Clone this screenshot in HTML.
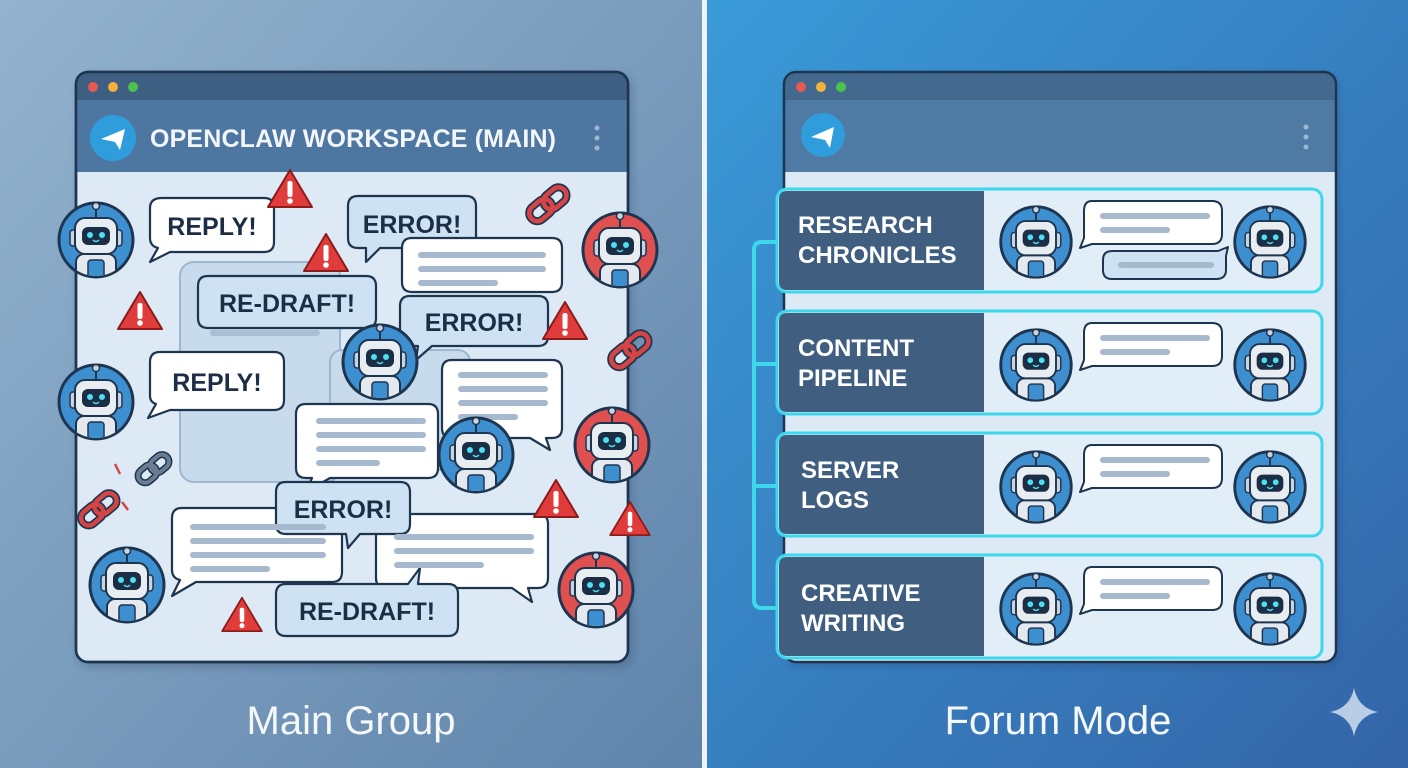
<!DOCTYPE html>
<html><head><meta charset="utf-8"><style>
html,body{margin:0;padding:0;width:1408px;height:768px;overflow:hidden}
svg{display:block}
text{font-family:"Liberation Sans",sans-serif}
</style></head><body>
<svg width="1408" height="768" viewBox="0 0 1408 768" xmlns="http://www.w3.org/2000/svg">
<defs>
<linearGradient id="lg" x1="0" y1="0" x2="1" y2="1"><stop offset="0" stop-color="#93b3ce"/><stop offset="1" stop-color="#5f84ab"/></linearGradient>
<linearGradient id="rg" x1="0" y1="0" x2="1" y2="1"><stop offset="0" stop-color="#3a9ad8"/><stop offset="1" stop-color="#3465a8"/></linearGradient>
<clipPath id="cc"><circle cx="0" cy="0" r="36"/></clipPath>
<symbol id="rb" viewBox="-42 -42 84 84" overflow="visible">
<circle r="37" fill="#3d8fd0" stroke="#1e3550" stroke-width="3"/>
<g clip-path="url(#cc)">
<rect x="-20" y="14" width="40" height="34" rx="8" fill="#e3e9ef" stroke="#1e3550" stroke-width="2"/>
<rect x="-8" y="20" width="16" height="20" rx="3" fill="#3d8fd0" stroke="#1e3550" stroke-width="1.5"/>
</g>
<line x1="0" y1="-22" x2="0" y2="-33" stroke="#1e3550" stroke-width="2"/>
<circle cx="0" cy="-34" r="3.5" fill="#c9d4df" stroke="#1e3550" stroke-width="1.5"/>
<rect x="-26" y="-10" width="8" height="16" rx="3" fill="#c9d4df" stroke="#1e3550" stroke-width="1.5"/>
<rect x="18" y="-10" width="8" height="16" rx="3" fill="#c9d4df" stroke="#1e3550" stroke-width="1.5"/>
<rect x="-21" y="-22" width="42" height="36" rx="10" fill="#e8edf2" stroke="#1e3550" stroke-width="2"/>
<rect x="-14" y="-13" width="28" height="18" rx="6" fill="#1c2e45"/>
<circle cx="-6" cy="-5" r="3" fill="#4de0f0"/><circle cx="6" cy="-5" r="3" fill="#4de0f0"/>
<path d="M-3 0 Q0 3 3 0" stroke="#4de0f0" stroke-width="1.5" fill="none"/>
</symbol>
<symbol id="rr" viewBox="-42 -42 84 84" overflow="visible">
<circle r="37" fill="#e05050" stroke="#1e3550" stroke-width="3"/>
<g clip-path="url(#cc)">
<rect x="-20" y="14" width="40" height="34" rx="8" fill="#e3e9ef" stroke="#1e3550" stroke-width="2"/>
<rect x="-8" y="20" width="16" height="20" rx="3" fill="#3d8fd0" stroke="#1e3550" stroke-width="1.5"/>
</g>
<line x1="0" y1="-22" x2="0" y2="-33" stroke="#1e3550" stroke-width="2"/>
<circle cx="0" cy="-34" r="3.5" fill="#c9d4df" stroke="#1e3550" stroke-width="1.5"/>
<rect x="-26" y="-10" width="8" height="16" rx="3" fill="#c9d4df" stroke="#1e3550" stroke-width="1.5"/>
<rect x="18" y="-10" width="8" height="16" rx="3" fill="#c9d4df" stroke="#1e3550" stroke-width="1.5"/>
<rect x="-21" y="-22" width="42" height="36" rx="10" fill="#e8edf2" stroke="#1e3550" stroke-width="2"/>
<rect x="-14" y="-13" width="28" height="18" rx="6" fill="#1c2e45"/>
<circle cx="-6" cy="-5" r="3" fill="#4de0f0"/><circle cx="6" cy="-5" r="3" fill="#4de0f0"/>
<path d="M-3 0 Q0 3 3 0" stroke="#4de0f0" stroke-width="1.5" fill="none"/>
</symbol>
<symbol id="wt" viewBox="-22 -22 44 40" overflow="visible">
<path d="M0 -20 L22 17 L-22 17 Z" fill="#e03c3c" stroke="#8a1c1c" stroke-width="2" stroke-linejoin="round"/>
<rect x="-2.5" y="-9" width="5" height="16" rx="2" fill="#fff"/><circle cx="0" cy="11" r="2.8" fill="#fff"/>
</symbol>
<symbol id="ch" viewBox="-20 -20 40 40" overflow="visible">
<g transform="rotate(-40)" fill="none">
<rect x="-18" y="-7" width="22" height="14" rx="7" stroke="#1e3550" stroke-width="7"/>
<rect x="-2" y="-7" width="22" height="14" rx="7" stroke="#1e3550" stroke-width="7"/>
<rect x="-18" y="-7" width="22" height="14" rx="7" stroke="#d64545" stroke-width="4"/>
<rect x="-2" y="-7" width="22" height="14" rx="7" stroke="#d64545" stroke-width="4"/>
</g>
</symbol>
<filter id="sh" x="-10%" y="-10%" width="130%" height="130%"><feDropShadow dx="3" dy="4" stdDeviation="4" flood-color="#1e3550" flood-opacity=".25"/></filter>
</defs>

<rect x="0" y="0" width="704" height="768" fill="url(#lg)"/>
<rect x="704" y="0" width="704" height="768" fill="url(#rg)"/>
<rect x="702" y="0" width="5" height="768" fill="#eef4fa"/>

<!-- LEFT WINDOW -->
<g filter="url(#sh)">
<rect x="76" y="72" width="552" height="590" rx="12" fill="#dde9f4" stroke="#1e3550" stroke-width="2.5"/>
</g>
<path d="M76 172 V84 Q76 72 88 72 H616 Q628 72 628 84 V172 Z" fill="#4d77a1"/>
<path d="M76 100 V84 Q76 72 88 72 H616 Q628 72 628 84 V100 Z" fill="#3e5f82"/>
<rect x="76" y="72" width="552" height="590" rx="12" fill="none" stroke="#1e3550" stroke-width="2.5"/>
<circle cx="93" cy="87" r="5" fill="#e85a4f"/><circle cx="113" cy="87" r="5" fill="#f1b33c"/><circle cx="133" cy="87" r="5" fill="#4cc24c"/>
<circle cx="113" cy="138" r="23" fill="#2f9ddc"/>
<path d="M101 139 L125 129 L120 150 L115 142 Z" fill="#fff"/>
<text x="150" y="147" font-size="25" font-weight="bold" fill="#f2f6fa" textLength="406">OPENCLAW WORKSPACE (MAIN)</text>
<circle cx="597" cy="128" r="2.5" fill="#9fb6cf"/><circle cx="597" cy="138" r="2.5" fill="#9fb6cf"/><circle cx="597" cy="148" r="2.5" fill="#9fb6cf"/>

<rect x="180" y="262" width="160" height="220" rx="14" fill="#c8dbec" stroke="#9fb6cf" stroke-width="2"/>
<rect x="210" y="300" width="90" height="6" rx="3" fill="#aabfd2"/><rect x="210" y="330" width="110" height="6" rx="3" fill="#aabfd2"/>
<rect x="330" y="350" width="140" height="120" rx="12" fill="#c8dbec" stroke="#9fb6cf" stroke-width="2"/>

<g stroke="#1e3550" stroke-width="2.2" stroke-linejoin="round">
<path d="M162 198 H264 Q274 198 274 208 V242 Q274 252 264 252 H170 L150 262 L158 248 Q150 246 150 238 V208 Q150 198 162 198 Z" fill="#fff"/>
<path d="M358 196 H466 Q476 196 476 206 V238 Q476 248 466 248 H380 L366 262 L366 248 H358 Q348 248 348 238 V206 Q348 196 358 196 Z" fill="#cfe2f3"/>
<path d="M412 238 H552 Q562 238 562 248 V282 Q562 292 552 292 H412 Q402 292 402 282 V248 Q402 238 412 238 Z" fill="#fff"/>
<path d="M410 296 H538 Q548 296 548 306 V336 Q548 346 538 346 H432 L416 360 L418 346 H410 Q400 346 400 336 V306 Q400 296 410 296 Z" fill="#cfe2f3"/>
<path d="M208 276 H366 Q376 276 376 286 V318 Q376 328 366 328 H208 Q198 328 198 318 V286 Q198 276 208 276 Z" fill="#cfe2f3"/>
<path d="M160 352 H274 Q284 352 284 362 V400 Q284 410 274 410 H170 L148 418 L156 404 Q150 402 150 396 V362 Q150 352 160 352 Z" fill="#fff"/>
<path d="M452 360 H552 Q562 360 562 370 V428 Q562 438 552 438 H546 L550 450 L530 438 H452 Q442 438 442 428 V370 Q442 360 452 360 Z" fill="#fff"/>
<path d="M306 404 H428 Q438 404 438 414 V468 Q438 478 428 478 H330 L306 492 L312 478 H306 Q296 478 296 468 V414 Q296 404 306 404 Z" fill="#fff"/>
</g>
<g fill="#a7b9cc">
<rect x="418" y="252" width="128" height="6" rx="3"/><rect x="418" y="266" width="128" height="6" rx="3"/><rect x="418" y="280" width="80" height="6" rx="3"/>
<rect x="458" y="372" width="90" height="6" rx="3"/><rect x="458" y="386" width="90" height="6" rx="3"/><rect x="458" y="400" width="90" height="6" rx="3"/><rect x="458" y="414" width="60" height="6" rx="3"/>
<rect x="316" y="418" width="110" height="6" rx="3"/><rect x="316" y="432" width="110" height="6" rx="3"/><rect x="316" y="446" width="110" height="6" rx="3"/><rect x="316" y="460" width="64" height="6" rx="3"/>
</g>
<use href="#rb" x="338" y="320" width="84" height="84"/>
<use href="#rb" x="434" y="413" width="84" height="84"/>

<g stroke="#1e3550" stroke-width="2.2" stroke-linejoin="round">
<path d="M182 508 H332 Q342 508 342 518 V572 Q342 582 332 582 H196 L172 596 L180 580 Q172 578 172 570 V518 Q172 508 182 508 Z" fill="#fff"/>
<path d="M386 514 H538 Q548 514 548 524 V578 Q548 588 538 588 H528 L532 602 L512 588 H386 Q376 588 376 578 V524 Q376 514 386 514 Z" fill="#fff"/>
<path d="M286 482 H400 Q410 482 410 492 V524 Q410 534 400 534 H360 L348 548 L346 534 H286 Q276 534 276 524 V492 Q276 482 286 482 Z" fill="#cfe2f3"/>
<path d="M286 584 H408 L420 568 L418 584 H448 Q458 584 458 594 V626 Q458 636 448 636 H286 Q276 636 276 626 V594 Q276 584 286 584 Z" fill="#cfe2f3"/>
</g>
<g fill="#a7b9cc">
<rect x="190" y="524" width="136" height="6" rx="3"/><rect x="190" y="538" width="136" height="6" rx="3"/><rect x="190" y="552" width="136" height="6" rx="3"/><rect x="190" y="566" width="80" height="6" rx="3"/>
<rect x="394" y="534" width="140" height="6" rx="3"/><rect x="394" y="548" width="140" height="6" rx="3"/><rect x="394" y="562" width="90" height="6" rx="3"/>
</g>

<g font-size="25" font-weight="bold" fill="#1c2e45" text-anchor="middle">
<text x="212" y="235">REPLY!</text>
<text x="412" y="233">ERROR!</text>
<text x="287" y="312">RE-DRAFT!</text>
<text x="474" y="331">ERROR!</text>
<text x="217" y="391">REPLY!</text>
<text x="343" y="518">ERROR!</text>
<text x="367" y="620">RE-DRAFT!</text>
</g>

<use href="#rb" x="54" y="198" width="84" height="84"/>
<use href="#rr" x="578" y="208" width="84" height="84"/>
<use href="#rb" x="54" y="360" width="84" height="84"/>
<use href="#rr" x="570" y="403" width="84" height="84"/>
<use href="#rb" x="85" y="543" width="84" height="84"/>
<use href="#rr" x="554" y="548" width="84" height="84"/>

<use href="#wt" x="268" y="168" width="44" height="40"/>
<use href="#wt" x="304" y="232" width="44" height="40"/>
<use href="#wt" x="118" y="290" width="44" height="40"/>
<use href="#wt" x="543" y="300" width="44" height="40"/>
<use href="#wt" x="534" y="478" width="44" height="40"/>
<use href="#wt" x="610" y="500" width="40" height="36"/>
<use href="#wt" x="222" y="596" width="40" height="36"/>
<use href="#ch" x="524" y="182" width="46" height="46"/>
<use href="#ch" x="606" y="328" width="46" height="46"/>
<use href="#ch" x="76" y="488" width="44" height="44"/>
<g fill="none" transform="translate(152 470) rotate(-40)"><rect x="-16" y="-7" width="20" height="14" rx="7" stroke="#1e3550" stroke-width="7"/><rect x="0" y="-7" width="20" height="14" rx="7" stroke="#1e3550" stroke-width="7"/><rect x="-16" y="-7" width="20" height="14" rx="7" stroke="#6a7d92" stroke-width="4"/><rect x="0" y="-7" width="20" height="14" rx="7" stroke="#6a7d92" stroke-width="4"/></g>
<g stroke="#d64545" stroke-width="2.5"><line x1="115" y1="464" x2="120" y2="474"/><line x1="122" y1="502" x2="128" y2="510"/></g>

<text x="351" y="734" font-size="40" fill="#f4f8fb" text-anchor="middle">Main Group</text>

<!-- RIGHT WINDOW -->
<g filter="url(#sh)">
<rect x="784" y="72" width="552" height="590" rx="12" fill="#dde9f4"/>
</g>
<path d="M784 172 V84 Q784 72 796 72 H1324 Q1336 72 1336 84 V172 Z" fill="#4f7aa3"/>
<path d="M784 100 V84 Q784 72 796 72 H1324 Q1336 72 1336 84 V100 Z" fill="#436a8e"/>
<rect x="784" y="72" width="552" height="590" rx="12" fill="none" stroke="#1e3550" stroke-width="2.5"/>
<circle cx="801" cy="87" r="5" fill="#e85a4f"/><circle cx="821" cy="87" r="5" fill="#f1b33c"/><circle cx="841" cy="87" r="5" fill="#4cc24c"/>
<circle cx="823" cy="135" r="22" fill="#2f9ddc"/>
<path d="M811 137 L834 127 L830 148 L825 140 Z" fill="#fff"/>
<circle cx="1306" cy="127" r="2.5" fill="#9fb6cf"/><circle cx="1306" cy="137" r="2.5" fill="#9fb6cf"/><circle cx="1306" cy="147" r="2.5" fill="#9fb6cf"/>

<path d="M776 242 H762 Q754 242 754 250 V600 Q754 608 762 608 H776 M754 364 H776 M754 486 H776" fill="none" stroke="#3dd8ec" stroke-width="4"/>

<g>
<rect x="777" y="189" width="545" height="103" rx="10" fill="#e1edf7"/>
<path d="M787 191 H984 V290 H787 Q779 290 779 282 V199 Q779 191 787 191 Z" fill="#3f5e80"/>
<rect x="777" y="189" width="545" height="103" rx="10" fill="none" stroke="#3dd8ec" stroke-width="3"/>
<rect x="777" y="311" width="545" height="103" rx="10" fill="#e1edf7"/>
<path d="M787 313 H984 V412 H787 Q779 412 779 404 V321 Q779 313 787 313 Z" fill="#3f5e80"/>
<rect x="777" y="311" width="545" height="103" rx="10" fill="none" stroke="#3dd8ec" stroke-width="3"/>
<rect x="777" y="433" width="545" height="103" rx="10" fill="#e1edf7"/>
<path d="M787 435 H984 V534 H787 Q779 534 779 526 V443 Q779 435 787 435 Z" fill="#3f5e80"/>
<rect x="777" y="433" width="545" height="103" rx="10" fill="none" stroke="#3dd8ec" stroke-width="3"/>
<rect x="777" y="555" width="545" height="103" rx="10" fill="#e1edf7"/>
<path d="M787 557 H984 V656 H787 Q779 656 779 648 V565 Q779 557 787 557 Z" fill="#3f5e80"/>
<rect x="777" y="555" width="545" height="103" rx="10" fill="none" stroke="#3dd8ec" stroke-width="3"/>
</g>

<g font-size="24" font-weight="bold" fill="#fff">
<text x="798" y="233">RESEARCH</text><text x="798" y="263">CHRONICLES</text>
<text x="798" y="356">CONTENT</text><text x="798" y="386">PIPELINE</text>
<text x="801" y="478">SERVER</text><text x="801" y="508">LOGS</text>
<text x="801" y="601">CREATIVE</text><text x="801" y="631">WRITING</text>
</g>

<g>
<use href="#rb" x="996" y="200" width="80" height="84"/><use href="#rb" x="1230" y="200" width="80" height="84"/>
<use href="#rb" x="996" y="323" width="80" height="84"/><use href="#rb" x="1230" y="323" width="80" height="84"/>
<use href="#rb" x="996" y="445" width="80" height="84"/><use href="#rb" x="1230" y="445" width="80" height="84"/>
<use href="#rb" x="996" y="567" width="80" height="84"/><use href="#rb" x="1230" y="567" width="80" height="84"/>
</g>
<g stroke="#1e3550" stroke-width="2" stroke-linejoin="round">
<path d="M1092 201 H1212 Q1222 201 1222 211 V234 Q1222 244 1212 244 H1092 L1080 248 L1084 238 V211 Q1084 201 1092 201 Z" fill="#fff"/>
<path d="M1112 251 H1218 L1228 247 L1226 256 V270 Q1226 279 1216 279 H1112 Q1103 279 1103 270 V260 Q1103 251 1112 251 Z" fill="#cfe2f3"/>
<path d="M1092 323 H1212 Q1222 323 1222 333 V356 Q1222 366 1212 366 H1092 L1080 370 L1084 360 V333 Q1084 323 1092 323 Z" fill="#fff"/>
<path d="M1092 445 H1212 Q1222 445 1222 455 V478 Q1222 488 1212 488 H1092 L1080 492 L1084 482 V455 Q1084 445 1092 445 Z" fill="#fff"/>
<path d="M1092 567 H1212 Q1222 567 1222 577 V600 Q1222 610 1212 610 H1092 L1080 614 L1084 604 V577 Q1084 567 1092 567 Z" fill="#fff"/>
</g>
<g fill="#a7b9cc">
<rect x="1100" y="213" width="110" height="6" rx="3"/><rect x="1100" y="227" width="70" height="6" rx="3"/>
<rect x="1118" y="262" width="96" height="6" rx="3"/>
<rect x="1100" y="335" width="110" height="6" rx="3"/><rect x="1100" y="349" width="70" height="6" rx="3"/>
<rect x="1100" y="457" width="110" height="6" rx="3"/><rect x="1100" y="471" width="70" height="6" rx="3"/>
<rect x="1100" y="579" width="110" height="6" rx="3"/><rect x="1100" y="593" width="70" height="6" rx="3"/>
</g>

<text x="1058" y="734" font-size="40" fill="#f4f8fb" text-anchor="middle">Forum Mode</text>
<path d="M1354 688 Q1358 708 1378 712 Q1358 716 1354 736 Q1350 716 1330 712 Q1350 708 1354 688 Z" fill="#b9cde6"/>
</svg>
</body></html>
